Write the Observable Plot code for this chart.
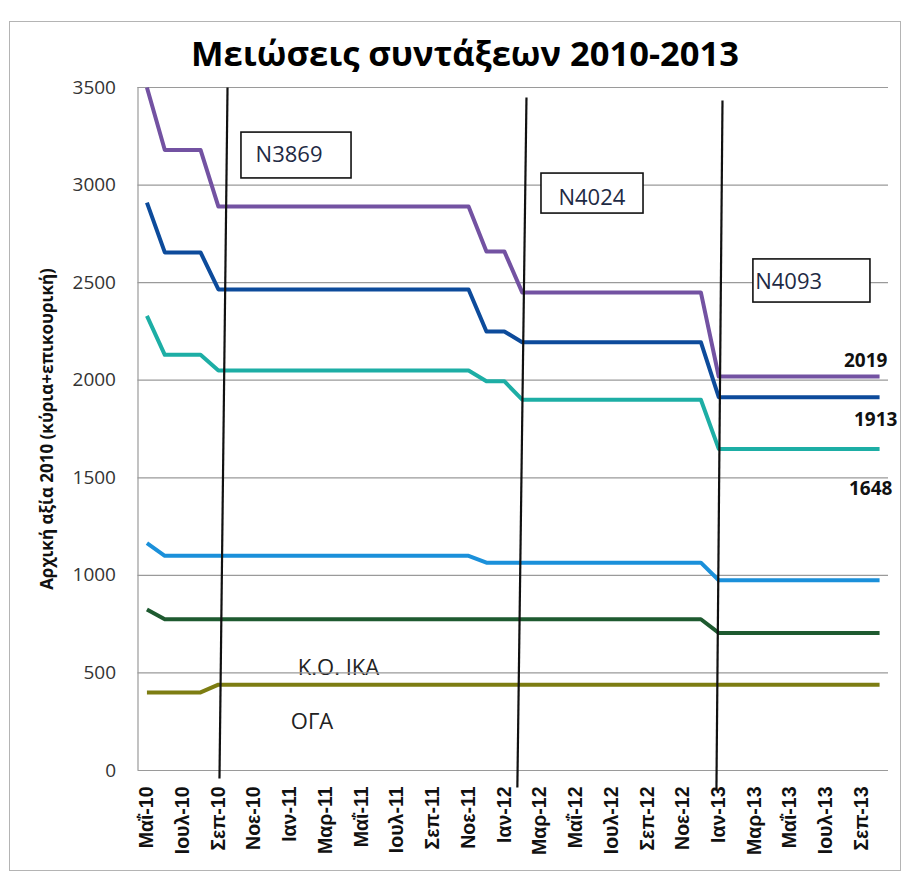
<!DOCTYPE html>
<html>
<head>
<meta charset="utf-8">
<script src="https://cdn.jsdelivr.net/npm/d3@7"></script>
<script src="https://cdn.jsdelivr.net/npm/@observablehq/plot@0.6"></script>
<style>
  html, body { margin: 0; padding: 0; background: #fff; }
  #wrap { position: relative; width: 904px; height: 877px; overflow: hidden; background: #fff; }
  #frame { position: absolute; left: 9px; top: 21px; width: 892px; height: 850px; border: 1.5px solid #b4b4b4; box-sizing: border-box; }
  #title { position: absolute; left: 0; top: 36px; width: 930px; text-align: center; font-family: "Open Sans", sans-serif; font-weight: bold; font-size: 34.5px; line-height: 1; color: #000; }
  #chart { position: absolute; left: 0; top: 0; }
</style>
</head>
<body>
<div id="wrap">
  <div id="frame"></div>
  <div id="chart"></div>
  <div id="title">Μειώσεις συντάξεων 2010-2013</div>
</div>
<script>
// ---- data ----
const months = [
  "Μαΐ-10","Ιουν-10","Ιουλ-10","Αυγ-10","Σεπ-10","Οκτ-10","Νοε-10","Δεκ-10",
  "Ιαν-11","Φεβ-11","Μαρ-11","Απρ-11","Μαΐ-11","Ιουν-11","Ιουλ-11","Αυγ-11","Σεπ-11","Οκτ-11","Νοε-11","Δεκ-11",
  "Ιαν-12","Φεβ-12","Μαρ-12","Απρ-12","Μαΐ-12","Ιουν-12","Ιουλ-12","Αυγ-12","Σεπ-12","Οκτ-12","Νοε-12","Δεκ-12",
  "Ιαν-13","Φεβ-13","Μαρ-13","Απρ-13","Μαΐ-13","Ιουν-13","Ιουλ-13","Αυγ-13","Σεπ-13","Οκτ-13"
];
const tickIdx = [0,2,4,6,8,10,12,14,16,18,20,22,24,26,28,30,32,34,36,38,40];
const yTicks = [0,500,1000,1500,2000,2500,3000,3500];

const purple = [3500,3180,3180,3180,2890,2890,2890,2890,2890,2890,2890,2890,2890,2890,2890,2890,2890,2890,2890,2660,2660,2450,2450,2450,2450,2450,2450,2450,2450,2450,2450,2450,2019,2019,2019,2019,2019,2019,2019,2019,2019,2019];
const darkBlue = [2910,2655,2655,2655,2465,2465,2465,2465,2465,2465,2465,2465,2465,2465,2465,2465,2465,2465,2465,2250,2250,2195,2195,2195,2195,2195,2195,2195,2195,2195,2195,2195,1913,1913,1913,1913,1913,1913,1913,1913,1913,1913];
const teal = [2330,2130,2130,2130,2050,2050,2050,2050,2050,2050,2050,2050,2050,2050,2050,2050,2050,2050,2050,1995,1995,1900,1900,1900,1900,1900,1900,1900,1900,1900,1900,1900,1648,1648,1648,1648,1648,1648,1648,1648,1648,1648];
const lightBlue = [1165,1100,1100,1100,1100,1100,1100,1100,1100,1100,1100,1100,1100,1100,1100,1100,1100,1100,1100,1065,1065,1065,1065,1065,1065,1065,1065,1065,1065,1065,1065,1065,975,975,975,975,975,975,975,975,975,975];
const ika = [825,775,775,775,775,775,775,775,775,775,775,775,775,775,775,775,775,775,775,775,775,775,775,775,775,775,775,775,775,775,775,775,705,705,705,705,705,705,705,705,705,705];
const oga = [400,400,400,400,440,440,440,440,440,440,440,440,440,440,440,440,440,440,440,440,440,440,440,440,440,440,440,440,440,440,440,440,440,440,440,440,440,440,440,440,440,440];

const seriesNames = ["purple","darkBlue","teal","lightBlue","ika","oga"];
const seriesValues = [purple, darkBlue, teal, lightBlue, ika, oga];
const seriesColors = ["#7352a2","#0d4b9b","#1daea5","#1b90da","#1e5a30","#7d7d12"];

// law annotations (vertical lines, boxes, labels)
const lawNames = ["N3869","N4024","N4093"];
const lawTopX = [4.51, 21.24, 32.21];
const lawTopY = [3500, 3449, 3433];
const lawBotX = [4.06, 20.73, 31.87];
const lawBotY = [-41, -87, -102];
const boxX1 = [5.29, 22.08, 33.94];
const boxX2 = [11.45, 27.79, 40.49];
const boxY1 = [3269, 3059, 2619];
const boxY2 = [3034, 2854, 2398];
const boxTextX = [6.08, 23.03, 34.04];
const boxTextY = [3152, 2936, 2501];

const endLabels = ["2019","1913","1648"];
const endLabelX = [41.44, 42.0, 41.72];
const endLabelY = [2099, 1799, 1445];

const fundLabels = ["Κ.Ο. ΙΚΑ","ΟΓΑ"];
const fundLabelX = [10.72, 9.24];
const fundLabelY = [528, 248];

const yLabel = "Αρχική αξία 2010 (κύρια+επικουρική)";

// ---- table ----
const table = [];
seriesNames.forEach((s, k) => seriesValues[k].forEach((v, i) => table.push({s, i, v})));

const idx3 = [0,1,2];
const lineMarks = seriesNames.map((s, k) =>
  Plot.line(table.filter(d => d.s === s), {x: "i", y: "v", stroke: seriesColors[k], strokeWidth: 4, strokeLinejoin: "round", strokeLinecap: "butt"})
);

const chart = Plot.plot({
  width: 904,
  height: 877,
  marginLeft: 137.5,
  marginRight: 16,
  marginTop: 87,
  marginBottom: 107,
  x: {domain: [-0.5, 41.5], axis: null},
  y: {domain: [0, 3500], axis: null},
  style: {fontFamily: "Open Sans", background: "transparent", overflow: "visible"},
  marks: [
    Plot.text([0,1], {x: i => fundLabelX[i], y: i => fundLabelY[i], text: i => fundLabels[i], fontSize: 22, fill: "#222", fontFamily: "Open Sans"}),
    Plot.ruleY(yTicks, {stroke: "#9a9a9a", strokeWidth: 1.2}),
    Plot.ruleX([-0.5], {y1: 0, y2: 3500, stroke: "#9a9a9a", strokeWidth: 1.2}),
    Plot.axisY({ticks: yTicks, tickFormat: d => String(d), label: null, tickSize: 0, tickPadding: 22, fontSize: 19, fill: "#333", fontFamily: "Open Sans"}),
    Plot.axisX({ticks: tickIdx, tickFormat: i => months[i], label: null, tickRotate: -90, tickSize: 0, tickPadding: 16, fontSize: 19.5, fontWeight: "bold", fill: "#111", fontFamily: "Liberation Sans"}),
    Plot.text([yLabel], {frameAnchor: "left", textAnchor: "middle", dx: -90, rotate: -90, fontSize: 17, fontWeight: "bold", fill: "#111", fontFamily: "Open Sans"}),
    ...lineMarks,
    Plot.link(idx3, {x1: i => lawTopX[i], y1: i => lawTopY[i], x2: i => lawBotX[i], y2: i => lawBotY[i], stroke: "#111", strokeWidth: 2.2}),
    Plot.rect(idx3, {x1: i => boxX1[i], x2: i => boxX2[i], y1: i => boxY1[i], y2: i => boxY2[i], fill: "white", stroke: "#111", strokeWidth: 1.6}),
    Plot.text(idx3, {x: i => boxTextX[i], y: i => boxTextY[i], text: i => lawNames[i], textAnchor: "start", fontSize: 22, fill: "#1e2a44", fontFamily: "Open Sans"}),
    Plot.text(idx3, {x: i => endLabelX[i], y: i => endLabelY[i], text: i => endLabels[i], textAnchor: "end", fontSize: 19, fontWeight: "bold", fill: "#111", fontFamily: "Open Sans"})
  ]
});
document.getElementById("chart").appendChild(chart);
</script>
</body>
</html>
